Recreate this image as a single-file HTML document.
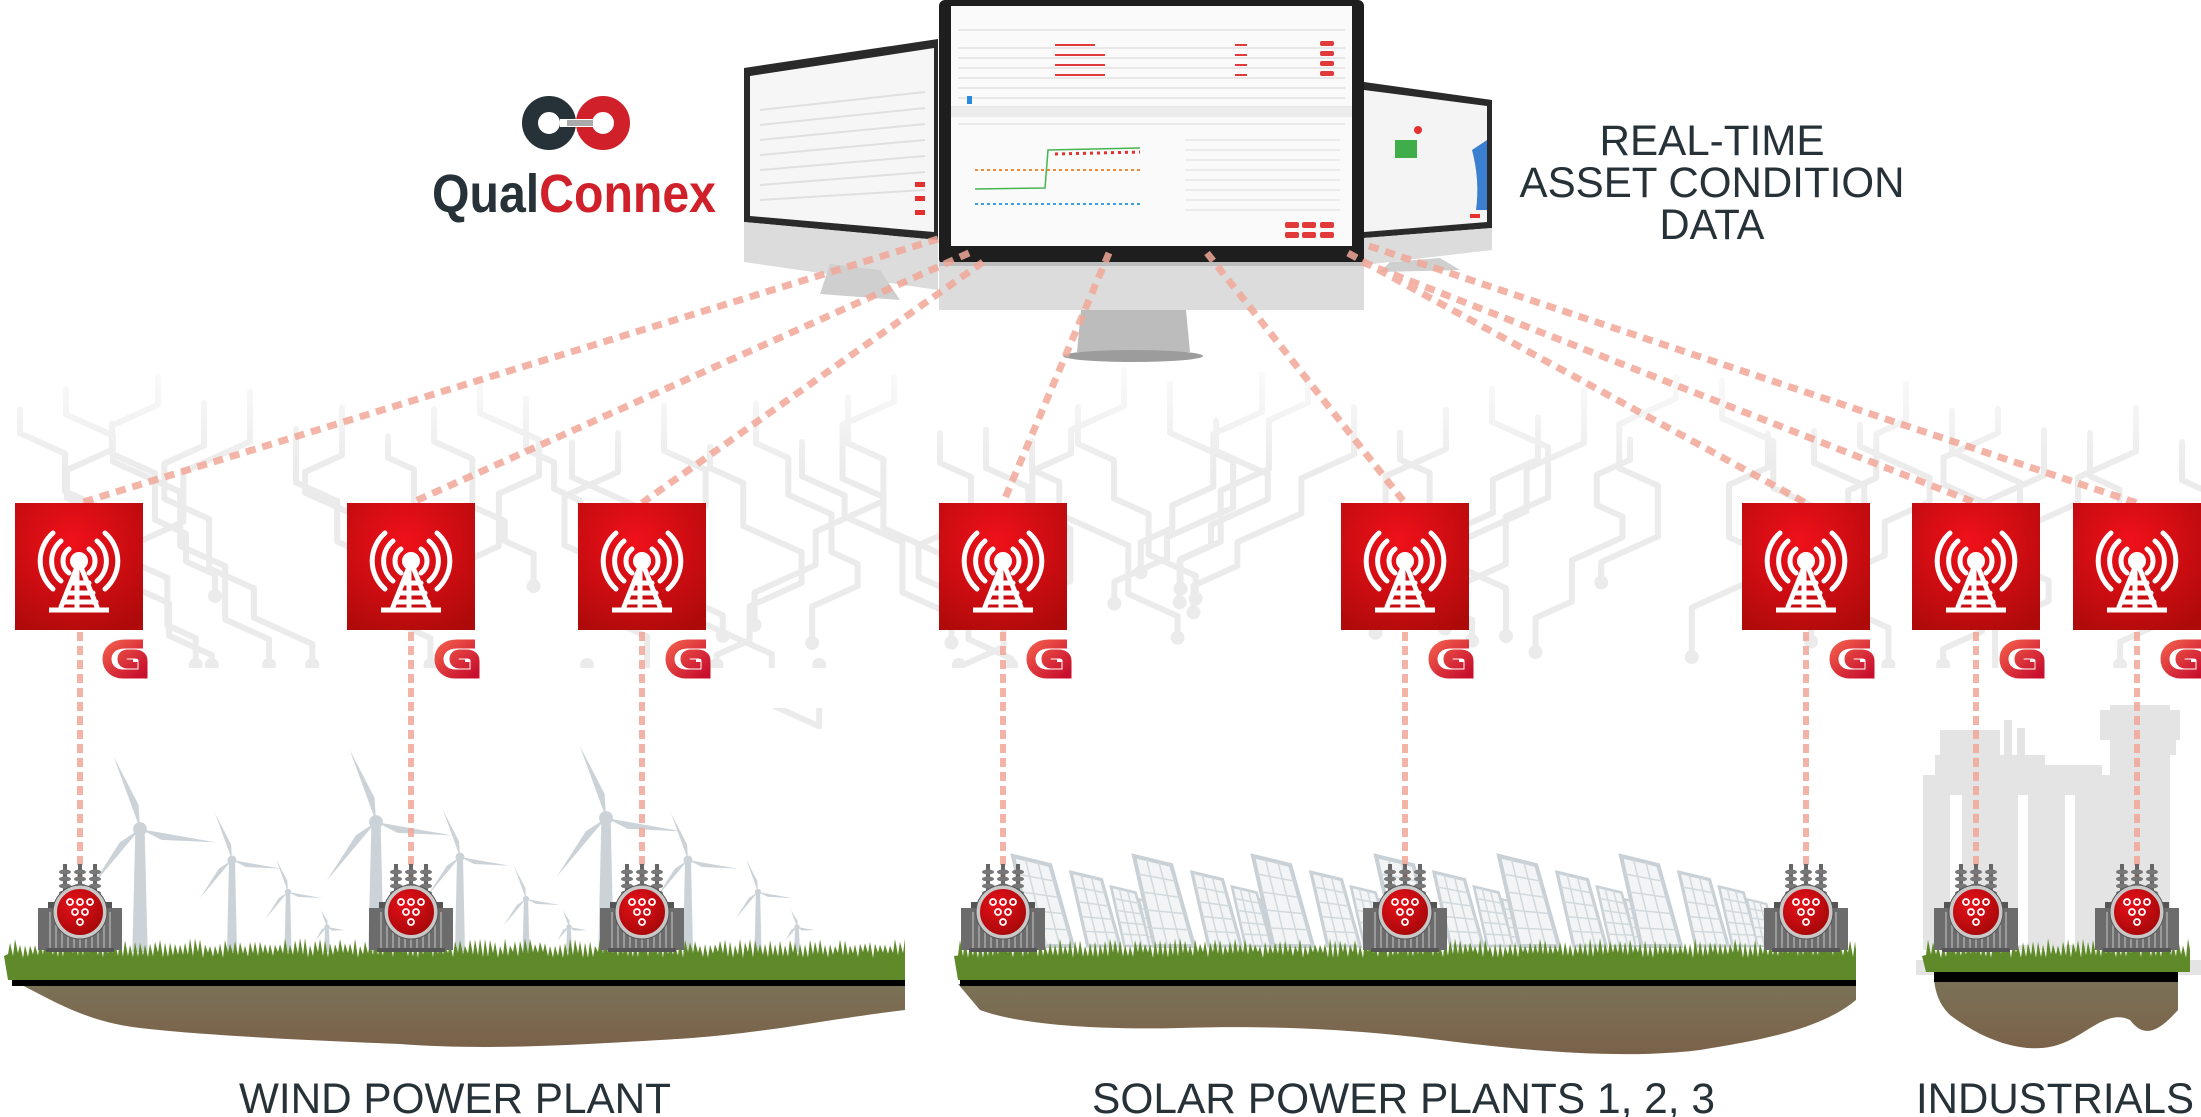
<!DOCTYPE html>
<html><head><meta charset="utf-8"><style>
html,body{margin:0;padding:0;background:#fff;}
svg{display:block;}
text{font-family:"Liberation Sans",sans-serif;}
</style></head><body>
<svg id="s" width="2201" height="1117" viewBox="0 0 2201 1117" xmlns="http://www.w3.org/2000/svg">
<defs>
<radialGradient id="rg" cx="0.45" cy="0.3" r="0.8"><stop offset="0" stop-color="#f0101a"/><stop offset="1" stop-color="#ae0a0a"/></radialGradient>
<radialGradient id="rc" cx="0.4" cy="0.35" r="0.7"><stop offset="0" stop-color="#e8101a"/><stop offset="1" stop-color="#a00808"/></radialGradient>
<linearGradient id="gg" x1="0" y1="0" x2="1" y2="1"><stop offset="0" stop-color="#f05a4a"/><stop offset="1" stop-color="#c8102e"/></linearGradient>
<linearGradient id="fade" x1="0" y1="0" x2="0" y2="1"><stop offset="0" stop-color="#fff" stop-opacity="1"/><stop offset="1" stop-color="#fff" stop-opacity="0"/></linearGradient>
<linearGradient id="soil" x1="0" y1="0" x2="0" y2="1"><stop offset="0" stop-color="#7a7258"/><stop offset="0.5" stop-color="#7b6a50"/><stop offset="1" stop-color="#7a624a"/></linearGradient>
<g id="box">
<rect x="0" y="0" width="128" height="127" fill="url(#rg)"/>
<g stroke="#fff" stroke-width="5" fill="none" stroke-linecap="round">
<path d="M54 46 A15 15 0 0 0 54 70"/><path d="M74 46 A15 15 0 0 1 74 70"/>
<path d="M46 38 A26 26 0 0 0 46 78"/><path d="M82 38 A26 26 0 0 1 82 78"/>
<path d="M38 30 A37 37 0 0 0 38 86"/><path d="M90 30 A37 37 0 0 1 90 86"/>
<line x1="62" y1="64" x2="46" y2="104"/><line x1="66" y1="64" x2="82" y2="104"/>
<line x1="62" y1="66" x2="62" y2="104"/>
<line x1="56" y1="80" x2="74" y2="80"/><line x1="52" y1="90" x2="78" y2="90"/><line x1="48" y1="99" x2="81" y2="99"/>
<line x1="34" y1="107" x2="94" y2="107" stroke-linecap="butt"/>
</g>
<circle cx="64" cy="58" r="9" fill="#fff"/>
</g>
<g id="glogo">
<path d="M36 1 L18 1 C6 1 0 8 0 16 C0 25 7 31 16 31 L36 31 L36 18 C36 12 31 11 27 11 L21 11 C17 11 15 13 15 16 C15 19 17 21 20 21 L26 21 L26 19" fill="none" stroke="url(#gg)" stroke-width="9"/>
</g>
<g id="tr">
<g fill="#666">
<rect x="-17" y="-48" width="4" height="40"/><rect x="-2" y="-48" width="4" height="40"/><rect x="13" y="-48" width="4" height="40"/>
</g>
<g fill="#777">
<ellipse cx="-15" cy="-40" rx="6" ry="2.5"/><ellipse cx="-15" cy="-33" rx="6" ry="2.5"/><ellipse cx="-15" cy="-26" rx="6" ry="2.5"/><ellipse cx="-15" cy="-19" rx="6" ry="2.5"/>
<ellipse cx="0" cy="-40" rx="6" ry="2.5"/><ellipse cx="0" cy="-33" rx="6" ry="2.5"/><ellipse cx="0" cy="-26" rx="6" ry="2.5"/><ellipse cx="0" cy="-19" rx="6" ry="2.5"/>
<ellipse cx="15" cy="-40" rx="6" ry="2.5"/><ellipse cx="15" cy="-33" rx="6" ry="2.5"/><ellipse cx="15" cy="-26" rx="6" ry="2.5"/><ellipse cx="15" cy="-19" rx="6" ry="2.5"/>
</g>
<rect x="-32" y="-10" width="64" height="8" fill="#555"/>
<rect x="-42" y="-4" width="84" height="42" fill="#6c6c6c"/>
<g stroke="#aaa" stroke-width="1.5">
<line x1="-30" y1="0" x2="-30" y2="36"/><line x1="-24" y1="0" x2="-24" y2="36"/><line x1="-18" y1="0" x2="-18" y2="36"/><line x1="-12" y1="0" x2="-12" y2="36"/><line x1="-6" y1="0" x2="-6" y2="36"/><line x1="0" y1="0" x2="0" y2="36"/><line x1="6" y1="0" x2="6" y2="36"/><line x1="12" y1="0" x2="12" y2="36"/><line x1="18" y1="0" x2="18" y2="36"/><line x1="24" y1="0" x2="24" y2="36"/><line x1="30" y1="0" x2="30" y2="36"/>
</g>
<rect x="-34" y="36" width="68" height="4" fill="#555"/>
<circle cx="0" cy="0" r="25" fill="url(#rc)" stroke="#c8c8c8" stroke-width="4"/>
<circle cx="0" cy="0" r="27" fill="none" stroke="#555" stroke-width="1"/>
<g fill="none" stroke="#fff" stroke-width="1.8">
<circle cx="-10" cy="-10" r="3"/><circle cx="0" cy="-10" r="3"/><circle cx="10" cy="-10" r="3"/>
<circle cx="-5" cy="0" r="3"/><circle cx="5" cy="0" r="3"/><circle cx="0" cy="10" r="3"/>
</g>
</g>
</defs>

<!-- circuit background -->
<g id="circ" stroke="#ebebeb" stroke-width="6" fill="none" stroke-linecap="round" stroke-linejoin="round"></g>
<rect x="0" y="340" width="2201" height="130" fill="url(#fade)"/>
<rect x="0" y="668" width="2201" height="40" fill="#fff"/>

<!-- monitors -->
<!-- left -->
<polygon points="744,68 938,39 938,240 744,222" fill="#2a2a2a"/>
<polygon points="750,76 934,48 934,232 750,216" fill="#f6f6f6"/>
<polygon points="744,222 938,240 938,290 744,262" fill="#dcdcdc"/>
<polygon points="830,264 880,270 900,300 820,294" fill="#cfcfcf"/>
<g stroke="#e0e0e0" stroke-width="2">
<line x1="760" y1="110" x2="925" y2="92"/><line x1="760" y1="125" x2="925" y2="108"/><line x1="760" y1="140" x2="925" y2="124"/><line x1="760" y1="155" x2="925" y2="140"/><line x1="760" y1="170" x2="925" y2="156"/><line x1="760" y1="185" x2="925" y2="172"/><line x1="760" y1="200" x2="925" y2="190"/>
</g>
<g fill="#e53030"><rect x="915" y="182" width="10" height="5"/><rect x="915" y="196" width="10" height="5"/><rect x="915" y="210" width="10" height="5"/></g>
<!-- right -->
<polygon points="1364,82 1492,100 1492,228 1364,238" fill="#2a2a2a"/>
<polygon points="1364,90 1487,106 1487,222 1364,232" fill="#f4f4f4"/>
<polygon points="1364,238 1492,228 1492,250 1364,265" fill="#dcdcdc"/>
<polygon points="1390,262 1440,258 1460,270 1380,272" fill="#cfcfcf"/>
<path d="M1472 150 Q1480 180 1476 210 L1487 210 L1487 140 Z" fill="#3a7fd0"/>
<g fill="#3fae4a"><rect x="1395" y="140" width="22" height="18"/></g>
<circle cx="1418" cy="130" r="4" fill="#e53030"/>
<g fill="#e53030"><rect x="1470" y="214" width="10" height="4"/></g>
<!-- center -->
<rect x="939" y="0" width="425" height="265" rx="6" fill="#1e1e1e"/>
<rect x="951" y="6" width="401" height="240" fill="#fafafa"/>
<rect x="939" y="262" width="425" height="48" fill="#dcdcdc"/>
<rect x="939" y="262" width="425" height="4" fill="#bdbdbd"/>
<polygon points="1081,310 1186,310 1190,352 1077,352" fill="#bcbcbc"/>
<ellipse cx="1133" cy="356" rx="70" ry="6" fill="#9c9c9c"/>
<g stroke="#e2e2e2" stroke-width="1.5">
<line x1="958" y1="30" x2="1345" y2="30"/><line x1="958" y1="48" x2="1345" y2="48"/><line x1="958" y1="58" x2="1345" y2="58"/><line x1="958" y1="68" x2="1345" y2="68"/><line x1="958" y1="78" x2="1345" y2="78"/><line x1="958" y1="88" x2="1345" y2="88"/><line x1="958" y1="98" x2="1345" y2="98"/><line x1="951" y1="107" x2="1352" y2="107"/><line x1="958" y1="124" x2="1345" y2="124"/>
</g>
<rect x="951" y="107" width="401" height="10" fill="#ececec"/>
<g fill="#e03a3a">
<rect x="1055" y="44" width="40" height="2"/><rect x="1055" y="54" width="50" height="2"/><rect x="1055" y="64" width="50" height="2"/><rect x="1055" y="74" width="50" height="2"/>
<rect x="1235" y="44" width="12" height="2"/><rect x="1235" y="54" width="12" height="2"/><rect x="1235" y="64" width="12" height="2"/><rect x="1235" y="74" width="12" height="2"/>
<rect x="1320" y="41" width="14" height="5" rx="2"/><rect x="1320" y="51" width="14" height="5" rx="2"/><rect x="1320" y="61" width="14" height="5" rx="2"/><rect x="1320" y="71" width="14" height="5" rx="2"/>
<rect x="1285" y="222" width="14" height="6" rx="2"/><rect x="1302" y="222" width="14" height="6" rx="2"/><rect x="1320" y="222" width="14" height="6" rx="2"/>
<rect x="1285" y="232" width="14" height="6" rx="2"/><rect x="1302" y="232" width="14" height="6" rx="2"/><rect x="1320" y="232" width="14" height="6" rx="2"/>
</g>
<rect x="967" y="96" width="5" height="8" fill="#2a8ae0"/>
<polyline points="975,189 1045,188 1048,150 1140,148" fill="none" stroke="#46b450" stroke-width="1.5"/>
<polyline points="1055,154 1140,152" fill="none" stroke="#e53030" stroke-width="3" stroke-dasharray="3 4"/>
<line x1="975" y1="170" x2="1140" y2="170" stroke="#f08a3a" stroke-width="2" stroke-dasharray="3 3"/>
<line x1="975" y1="204" x2="1140" y2="204" stroke="#3aa0e0" stroke-width="2" stroke-dasharray="3 3"/>
<g stroke="#e6e6e6" stroke-width="1.5">
<line x1="1185" y1="140" x2="1340" y2="140"/><line x1="1185" y1="150" x2="1340" y2="150"/><line x1="1185" y1="160" x2="1340" y2="160"/><line x1="1185" y1="170" x2="1340" y2="170"/><line x1="1185" y1="180" x2="1340" y2="180"/><line x1="1185" y1="190" x2="1340" y2="190"/><line x1="1185" y1="200" x2="1340" y2="200"/><line x1="1185" y1="210" x2="1340" y2="210"/>
</g>

<!-- logo -->
<circle cx="549" cy="123" r="19" fill="none" stroke="#263238" stroke-width="16"/>
<circle cx="603" cy="123" r="19" fill="none" stroke="#d0202a" stroke-width="16"/>
<rect x="560" y="119" width="34" height="8" fill="#fff"/>
<rect x="567" y="120" width="26" height="6" fill="#aaa"/>
<text x="432" y="212" font-size="54" font-weight="bold" textLength="284" lengthAdjust="spacingAndGlyphs"><tspan fill="#263238">Qual</tspan><tspan fill="#d0202a">Connex</tspan></text>

<g fill="#263238" font-size="43" text-anchor="middle">
<text x="1712" y="155" textLength="225" lengthAdjust="spacingAndGlyphs">REAL-TIME</text>
<text x="1712" y="197" textLength="385" lengthAdjust="spacingAndGlyphs">ASSET CONDITION</text>
<text x="1712" y="239" textLength="105" lengthAdjust="spacingAndGlyphs">DATA</text>
</g>

<!-- diagonal dashed -->
<g stroke="#f1a898" stroke-width="7" stroke-dasharray="10 7" opacity="0.85" fill="none">
<line x1="938" y1="239" x2="80" y2="503"/>
<line x1="969" y1="253" x2="411" y2="503"/>
<line x1="983" y1="262" x2="642" y2="503"/>
<line x1="1109" y1="253" x2="1003" y2="503"/>
<line x1="1207" y1="253" x2="1405" y2="503"/>
<line x1="1348" y1="253" x2="1806" y2="503"/>
<line x1="1362" y1="262" x2="1976" y2="503"/>
<line x1="1369" y1="246" x2="2137" y2="503"/>
</g>

<!-- industrial building -->
<g fill="#e4e4e4">
<rect x="1923" y="775" width="190" height="175"/>
<rect x="1935" y="755" width="110" height="25"/>
<rect x="1940" y="730" width="60" height="25"/>
<rect x="2004" y="720" width="8" height="40"/><rect x="2017" y="728" width="8" height="32"/>
<rect x="2030" y="765" width="72" height="14"/>
<rect x="2110" y="705" width="60" height="245"/>
<rect x="2100" y="710" width="80" height="30"/>
<rect x="2110" y="740" width="66" height="15"/>
<rect x="1916" y="960" width="285" height="15"/>
</g>
<g fill="#fff"><rect x="1950" y="795" width="12" height="150"/><rect x="2018" y="795" width="10" height="150"/><rect x="2065" y="795" width="10" height="150"/></g>

<!-- turbines -->
<g id="turb" fill="#ccd3d8"></g>

<!-- solar -->
<g id="solar"></g>

<!-- grounds -->
<path d="M20 984 L905 984 L905 1010 C820 1020 760 1035 660 1040 C560 1046 480 1050 400 1044 C300 1040 200 1035 140 1028 C90 1022 60 1005 20 984 Z" fill="url(#soil)"/>
<path d="M958 984 L1856 984 L1856 1000 C1820 1030 1760 1040 1700 1050 C1620 1060 1520 1050 1440 1040 C1360 1030 1280 1025 1180 1028 C1100 1030 1020 1025 980 1010 Z" fill="url(#soil)"/>
<path d="M1934 980 L2178 980 L2178 1010 C2160 1030 2145 1040 2130 1020 C2110 1010 2090 1030 2070 1040 C2050 1050 2030 1050 2010 1045 C1990 1040 1970 1030 1950 1015 C1940 1005 1936 995 1934 980 Z" fill="url(#soil)"/>
<rect x="12" y="978" width="893" height="8" fill="#000"/>
<rect x="960" y="978" width="896" height="8" fill="#000"/>
<rect x="1934" y="970" width="244" height="12" fill="#000"/>
<g id="grass" fill="#5f8a2a"></g>

<!-- vertical dashes -->
<g stroke="#f1a898" stroke-width="6" stroke-dasharray="9 5" opacity="0.85">
<line x1="80" y1="632" x2="80" y2="880"/><line x1="411" y1="632" x2="411" y2="880"/><line x1="642" y1="632" x2="642" y2="880"/><line x1="1003" y1="632" x2="1003" y2="880"/><line x1="1405" y1="632" x2="1405" y2="880"/><line x1="1806" y1="632" x2="1806" y2="880"/><line x1="1976" y1="632" x2="1976" y2="880"/><line x1="2137" y1="632" x2="2137" y2="880"/>
</g>

<!-- transformers -->
<use href="#tr" x="80" y="912"/><use href="#tr" x="411" y="912"/><use href="#tr" x="642" y="912"/><use href="#tr" x="1003" y="912"/><use href="#tr" x="1405" y="912"/><use href="#tr" x="1806" y="912"/><use href="#tr" x="1976" y="912"/><use href="#tr" x="2137" y="912"/>

<!-- boxes -->
<use href="#box" x="15" y="503"/><use href="#box" x="347" y="503"/><use href="#box" x="578" y="503"/><use href="#box" x="939" y="503"/><use href="#box" x="1341" y="503"/><use href="#box" x="1742" y="503"/><use href="#box" x="1912" y="503"/><use href="#box" x="2073" y="503"/>
<use href="#glogo" x="107" y="643"/><use href="#glogo" x="439" y="643"/><use href="#glogo" x="670" y="643"/><use href="#glogo" x="1031" y="643"/><use href="#glogo" x="1433" y="643"/><use href="#glogo" x="1834" y="643"/><use href="#glogo" x="2004" y="643"/><use href="#glogo" x="2165" y="643"/>

<g fill="#263238" font-size="43">
<text x="239" y="1113" textLength="432" lengthAdjust="spacingAndGlyphs">WIND POWER PLANT</text>
<text x="1092" y="1113" textLength="623" lengthAdjust="spacingAndGlyphs">SOLAR POWER PLANTS 1, 2, 3</text>
<text x="1916" y="1113" textLength="278" lengthAdjust="spacingAndGlyphs">INDUSTRIALS</text>
</g>
</svg>
<script>
(function(){
var NS="http://www.w3.org/2000/svg";
function el(p,t,a){var e=document.createElementNS(NS,t);for(var k in a)e.setAttribute(k,a[k]);p.appendChild(e);return e;}
var seed=7;function r(){seed=(seed*9301+49297)%233280;return seed/233280;}
// circuit: flowing diagonal lines
var c=document.getElementById('circ');
for(var x=20;x<2201;x+=46){
  var y=370+r()*80, cx=x, d="M"+cx+" "+y;
  var dir=(x<1100?1:-1);
  var n=3+Math.floor(r()*2);
  for(var i=0;i<n;i++){
    var dy=20+r()*35; y+=dy; d+=" L"+cx+" "+y;
    var dx=dir*(r()<0.7?1:-1)*(25+r()*45); cx+=dx; y+=Math.abs(dx)*0.45; d+=" L"+cx+" "+y;
  }
  var ye=Math.min(665,y+20+r()*30); d+=" L"+cx+" "+ye;
  el(c,'path',{d:d});
  el(c,'circle',{cx:cx,cy:ye,r:7,fill:'#ebebeb',stroke:'none'});
}
// turbines
var tg=document.getElementById('turb');
var T=[[140,829,77],[232,860,50],[288,892,35],[327,927,18],[376,822,77],[460,857,50],[526,899,35],[569,927,18],[606,818,77],[688,860,50],[758,892,35],[797,927,18]];
T.forEach(function(t){
  var hx=t[0],hy=t[1],L=t[2],w=Math.max(3,L/10);
  el(tg,'polygon',{points:(hx-w*0.6)+","+hy+" "+(hx+w*0.6)+","+hy+" "+(hx+w)+",952 "+(hx-w)+",952"});
  [100,220,340].forEach(function(a0){
    var a=(a0-90)*Math.PI/180, ex=hx+Math.cos(a)*L, ey=hy+Math.sin(a)*L;
    var px=-Math.sin(a)*w*0.9, py=Math.cos(a)*w*0.9;
    el(tg,'polygon',{points:hx+","+hy+" "+(hx+Math.cos(a)*L*0.3+px)+","+(hy+Math.sin(a)*L*0.3+py)+" "+ex+","+ey});
  });
  el(tg,'circle',{cx:hx,cy:hy,r:w*0.9});
});
// solar
var sg=document.getElementById('solar');
[1013,1134,1253,1376,1499,1621].forEach(function(sx){
  var sizes=[[0,1],[58,0.82],[98,0.66],[126,0.52],[146,0.42]];
  sizes.forEach(function(s){
    var x=sx+s[0], k=s[1], h=90*k, w=60*k, top=946-h;
    var P=[[x,top],[x+w*0.62,top+h*0.1],[x+w,top+h],[x+w*0.34,top+h]];
    el(sg,'polygon',{points:P.map(function(p){return p.join(',')}).join(' '),fill:'#f2f4f5',stroke:'#c9d1d6','stroke-width':Math.max(2,4*k)});
    for(var j=1;j<5;j++){var f=j/5;
      el(sg,'line',{x1:x+f*w*0.34,y1:top+f*h,x2:x+w*0.62+f*w*0.38,y2:top+h*0.1+f*h*0.9,stroke:'#d2d9dd','stroke-width':1.5});}
    for(var j=1;j<3;j++){var f=j/3;
      el(sg,'line',{x1:x+f*w*0.62,y1:top+f*h*0.1,x2:x+w*0.34+f*w*0.66,y2:top+h,stroke:'#d2d9dd','stroke-width':1.5});}
  });
});
// grass
var gg=document.getElementById('grass');
function band(x0,x1,yt,yb){
  var p=x0+","+yb;var x=x0;p+=" "+(x0-4)+","+(yt+6);
  while(x<x1){p+=" "+x+","+(yt+2+r()*6)+" "+(x+2)+","+(yt-4-r()*8);x+=5;}
  p+=" "+x1+","+yt+" "+x1+","+yb;
  el(gg,'polygon',{points:p});
}
band(8,905,950,980);band(958,1856,950,980);band(1926,2190,950,972);
})();
</script>
</body></html>
